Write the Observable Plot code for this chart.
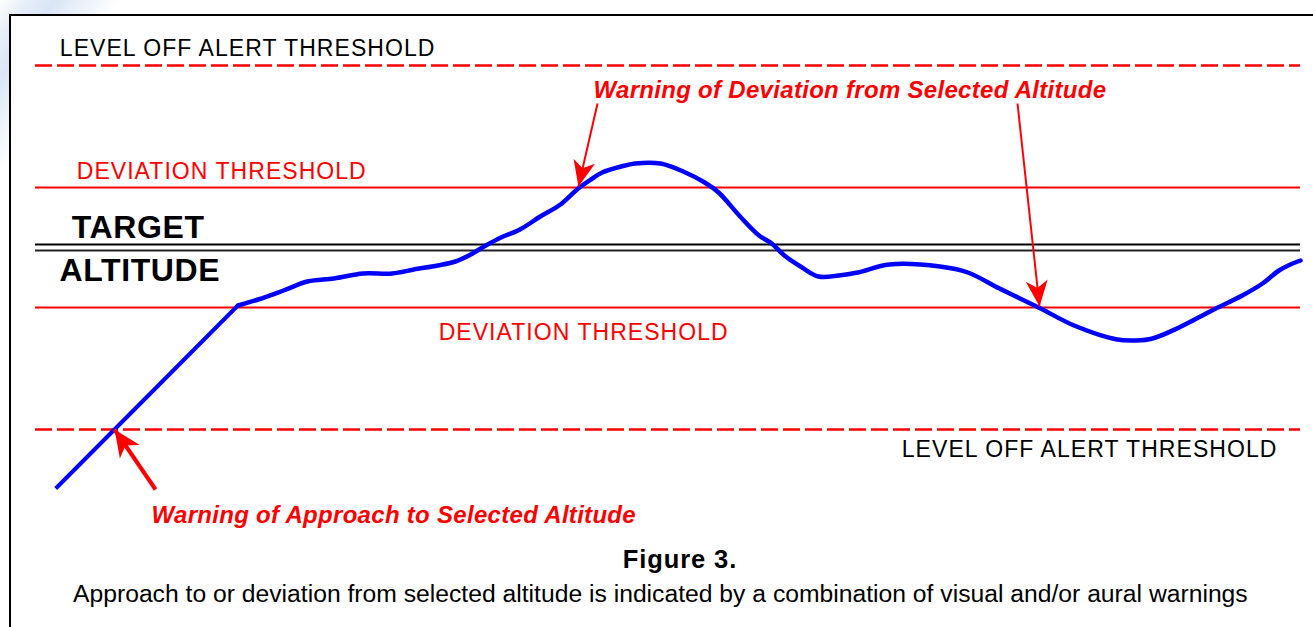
<!DOCTYPE html>
<html>
<head>
<meta charset="utf-8">
<script src="https://cdn.jsdelivr.net/npm/d3@7"></script>
<script src="https://cdn.jsdelivr.net/npm/@observablehq/plot@0.6"></script>
<style>
  html, body { margin: 0; padding: 0; width: 1313px; height: 627px; overflow: hidden; }
  body {
    position: relative;
    font-family: "Liberation Sans", Arial, sans-serif;
    background: linear-gradient(125deg, #ffffff 0px, #e6eef8 22px, #dae6f5 45px, #eef4fb 75px, #ffffff 100px);
  }
  #frame { position: absolute; left: 9px; top: 14px; width: 1400px; height: 700px; border: 2px solid #000; background: #fff; box-sizing: border-box; }
  #chart { position: absolute; left: 0; top: 0; }
  #figtitle { position: absolute; left: 480px; width: 400px; top: 547px; text-align: center; font-weight: bold; font-size: 25.5px; line-height: 25.5px; letter-spacing: 0.9px; color: #000; }
  #caption { position: absolute; left: 73px; top: 581.5px; font-size: 24.7px; line-height: 24.7px; white-space: nowrap; color: #000; }
</style>
</head>
<body>
<div id="frame"></div>
<div id="chart"></div>
<div id="figtitle">Figure 3.</div>
<div id="caption">Approach to or deviation from selected altitude is indicated by a combination of visual and/or aural warnings</div>
<script>
// ---- Data (time in arbitrary seconds, altitude in ft relative to target) ----
const climbTime = [1.6, 16.0];
const climbAltitude = [-1205, -290];

const flightTime = [16.0, 17.6, 19.6, 21.5, 23.6, 25.9, 28.2, 29.9, 31.8, 33.2, 34.4, 35.6, 36.8, 38.3, 39.9, 41.5,
  42.9, 43.9, 44.8, 46.3, 47.4, 49.4, 51.2, 52.9, 54.0, 55.7, 57.2, 58.2, 59.2, 60.6, 61.9, 63.5, 65.0, 67.5,
  71.5, 73.7, 76.2, 79.3, 82.1, 85.5, 87.0, 88.3, 90.4, 93.0, 95.4, 97.0, 98.3, 99.2, 100.0];
const flightAltitude = [-290, -260, -215, -170, -155, -130, -130, -110, -90, -70, -35, 10, 50, 90, 155, 215,
  295, 340, 375, 405, 420, 420, 380, 325, 275, 155, 60, 20, -40, -100, -145, -140, -125, -85,
  -95, -125, -205, -300, -390, -460, -465, -455, -400, -315, -240, -180, -115, -85, -65];

const targetAltitude = 0;
const deviationThreshold = 300;
const levelOffThreshold = 910;

// annotation anchors
const regularLabels = [
  {text: "LEVEL OFF ALERT THRESHOLD", t: 1.92, alt: 992, color: "#000000"},
  {text: "DEVIATION THRESHOLD", t: 3.26, alt: 380, color: "#ff0000"},
  {text: "DEVIATION THRESHOLD", t: 31.87, alt: -425, color: "#ff0000"},
  {text: "LEVEL OFF ALERT THRESHOLD", t: 68.48, alt: -1012, color: "#000000"}
];
const targetLabels = [
  {text: "TARGET", t: 2.87, alt: 98},
  {text: "ALTITUDE", t: 1.90, alt: -117}
];
const warningLabels = [
  {text: "Warning of Deviation from Selected Altitude", t: 44.11, alt: 788},
  {text: "Warning of Approach to Selected Altitude", t: 9.17, alt: -1341}
];
const approachArrow = [{t1: 9.49, a1: -1210, t2: 6.25, a2: -910}];
const deviationArrows = [
  {t1: 44.43, a1: 720, t2: 42.92, a2: 305},
  {t1: 77.63, a1: 720, t2: 79.37, a2: -295}
];

const climb = climbTime.map((t, i) => ({t, alt: climbAltitude[i]}));
const flight = flightTime.map((t, i) => ({t, alt: flightAltitude[i]}));

const FONT = '"Liberation Sans", Arial, sans-serif';

const chart = Plot.plot({
  width: 1313,
  height: 540,
  margin: 0,
  x: {domain: [0, 100], range: [35, 1300], axis: null},
  y: {domain: [-levelOffThreshold, levelOffThreshold], range: [429, 65], axis: null},
  style: {background: "transparent", fontFamily: FONT, overflow: "visible"},
  marks: [
    Plot.ruleY([targetAltitude], {x1: 0, x2: 100, stroke: "#000000", strokeWidth: 2, dy: -3}),
    Plot.ruleY([targetAltitude], {x1: 0, x2: 100, stroke: "#222222", strokeWidth: 2, dy: 3}),
    Plot.ruleY([deviationThreshold, -deviationThreshold], {x1: 0, x2: 100, stroke: "#ff0000", strokeWidth: 2}),
    Plot.ruleY([levelOffThreshold, -levelOffThreshold], {x1: 0, x2: 100, stroke: "#ff0000", strokeWidth: 2.5, strokeDasharray: "17,5"}),
    Plot.line(climb, {x: "t", y: "alt", stroke: "#0000ff", strokeWidth: 4, strokeLinecap: "butt"}),
    Plot.line(flight, {x: "t", y: "alt", stroke: "#0000ff", strokeWidth: 4.5, curve: "catmull-rom"}),
    Plot.link(approachArrow, {x1: "t1", y1: "a1", x2: "t2", y2: "a2", stroke: "#ff0000", strokeWidth: 4, ariaDescription: "arrow-big"}),
    Plot.link(deviationArrows, {x1: "t1", y1: "a1", x2: "t2", y2: "a2", stroke: "#ff0000", strokeWidth: 2, ariaDescription: "arrow-small"}),
    Plot.text(regularLabels, {x: "t", y: "alt", text: "text", fill: d => d.color, textAnchor: "start", lineAnchor: "middle", fontSize: 23, fontFamily: FONT, ariaDescription: "labels-regular"}),
    Plot.text(targetLabels, {x: "t", y: "alt", text: "text", fill: "#000000", textAnchor: "start", lineAnchor: "middle", fontSize: 32, fontWeight: "bold", fontFamily: FONT, ariaDescription: "labels-target"}),
    Plot.text(warningLabels, {x: "t", y: "alt", text: "text", fill: "#ff0000", textAnchor: "start", lineAnchor: "middle", fontSize: 24, fontWeight: "bold", fontStyle: "italic", fontFamily: FONT, ariaDescription: "labels-warning"})
  ]
});

document.getElementById("chart").appendChild(chart);

// filled notched arrowheads
const svg = d3.select(chart.tagName.toLowerCase() === "svg" ? chart : chart.querySelector("svg"));
const defs = svg.insert("defs", ":first-child");
function addHead(id, len, half) {
  defs.append("marker")
    .attr("id", id)
    .attr("markerUnits", "userSpaceOnUse")
    .attr("viewBox", `${-len - 1} ${-half - 1} ${len + 2} ${2 * half + 2}`)
    .attr("markerWidth", len + 2)
    .attr("markerHeight", 2 * half + 2)
    .attr("refX", 0)
    .attr("refY", 0)
    .attr("orient", "auto")
    .append("path")
    .attr("d", `M0,0L${-len},${-half}L${-len * 0.72},0L${-len},${half}Z`)
    .attr("fill", "#ff0000");
}
addHead("head-big", 27, 12);
addHead("head-small", 26, 11);
svg.selectAll('g[aria-description="arrow-big"] path').attr("marker-end", "url(#head-big)").attr("stroke-linecap", "butt");
svg.selectAll('g[aria-description="arrow-small"] path').attr("marker-end", "url(#head-small)").attr("stroke-linecap", "butt");
svg.selectAll('g[aria-description="labels-regular"] text').style("letter-spacing", "1.05px");
svg.selectAll('g[aria-description="labels-target"] text').style("letter-spacing", "0.6px");
svg.selectAll('g[aria-description="labels-warning"] text').style("letter-spacing", "0.3px");
</script>
</body>
</html>
